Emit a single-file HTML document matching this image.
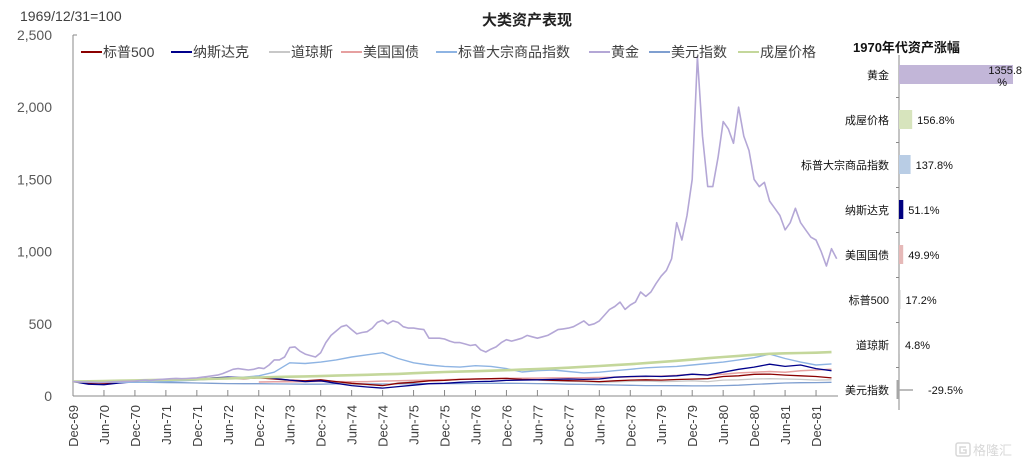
<!DOCTYPE html>
<html><head><meta charset="utf-8"><style>
body{margin:0;background:#fff;}
svg{display:block;font-family:"Liberation Sans","Noto Sans CJK SC",sans-serif;}
</style></head><body>
<svg id="c" width="1031" height="465" viewBox="0 0 1031 465">
<text x="20" y="21" font-size="14" fill="#404040">1969/12/31=100</text>
<text x="527" y="25" font-size="15" font-weight="bold" fill="#222" text-anchor="middle">大类资产表现</text>
<text x="853" y="52" font-size="13" font-weight="bold" fill="#111">1970年代资产涨幅</text>
<g id="grid"></g><g id="lines"></g><g id="legend"></g><g id="bars"></g>
<g fill="none" stroke="#d8d8d8" stroke-width="1.5">
<rect x="956" y="443" width="14" height="13" rx="2"/><path d="M966 447h-6v6h6v-3h-3"/>
</g>
<text x="973" y="455" font-size="13" fill="#d8d8d8">格隆汇</text>
</svg>
<script>
const monthsLabels=["Dec-69","Jun-70","Dec-70","Jun-71","Dec-71","Jun-72","Dec-72","Jun-73","Dec-73","Jun-74","Dec-74","Jun-75","Dec-75","Jun-76","Dec-76","Jun-77","Dec-77","Jun-78","Dec-78","Jun-79","Dec-79","Jun-80","Dec-80","Jun-81","Dec-81"];
const yTicks=[0,500,1000,1500,2000,2500];
const yTickLabels=["0","500","1,000","1,500","2,000","2,500"];
// gold monthly Dec-69..Apr-82
const gold=[100,98,97,96,95,93,94,96,98,100,101,102,104,
107,110,108,112,115,117,120,122,120,121,123,125,
130,135,140,145,155,170,185,190,185,180,185,195,
190,215,250,250,270,335,340,310,290,280,270,300,
370,420,450,480,490,460,430,440,445,470,510,525,
500,520,510,480,470,470,465,460,400,400,400,395,
380,370,370,360,350,355,320,305,325,340,370,390,
380,390,400,420,410,400,410,420,440,460,465,470,
480,500,520,490,500,520,560,600,620,650,600,630,
650,720,690,720,780,830,870,950,1200,1080,1250,1500,
2350,1800,1450,1450,1650,1900,1850,1750,2000,1800,1700,1500,
1450,1480,1350,1300,1250,1150,1200,1300,1200,1150,1100,1080,
1000,900,1020,950];
// quarterly series Dec-69..Mar-82 (50 points)
const housing=[100,102,104,106,108,110,112,114,116,119,122,125,128,131,134,136,138,141,144,147,150,153,158,162,166,169,172,175,179,183,187,191,196,202,208,214,220,228,236,244,252,262,270,278,286,292,296,298,300,304];
const commodity=[100,97,96,95,95,97,100,105,110,118,122,130,140,165,230,225,235,250,270,285,300,260,230,215,205,200,210,205,190,166,175,180,170,160,165,175,185,195,200,205,215,225,235,250,265,290,260,235,215,222];
const dow=[100,85,92,98,105,110,108,110,115,122,125,120,125,118,105,98,108,95,80,78,75,90,98,105,108,115,118,120,122,115,110,105,102,100,95,98,102,104,100,102,105,100,110,112,118,120,118,115,110,112];
const sp500=[100,88,85,95,102,108,110,108,112,118,122,120,125,118,110,105,112,100,88,80,72,88,95,105,108,115,118,120,122,115,112,108,106,104,100,105,110,112,110,114,117,120,135,140,150,152,145,140,135,125];
const nasdaq=[100,82,78,90,98,108,112,115,118,125,130,128,132,122,110,100,105,88,72,62,55,65,75,85,88,95,100,102,108,110,112,115,118,115,118,130,135,138,135,140,151,145,165,185,200,220,205,215,190,175];
const treasury=[null,null,null,null,null,null,null,null,null,null,null,null,97,98,99,100,102,100,98,100,103,106,108,110,112,115,118,120,122,123,124,125,125,126,128,130,132,135,138,143,150,145,150,160,165,170,165,175,180,185];
const usd=[100,99,98,97,96,95,93,92,90,88,86,85,85,84,83,82,82,84,85,84,83,84,85,86,86,86,87,88,88,87,86,85,82,80,78,76,74,72,72,71,70,70,72,75,80,85,90,92,93,95];
const barCats=["黄金","成屋价格","标普大宗商品指数","纳斯达克","美国国债","标普500","道琼斯","美元指数"];
const barVals=[1355.8,156.8,137.8,51.1,49.9,17.2,4.8,-29.5];
const barColors=["#c2b6d8","#d7e4bd","#b9cde5","#000080","#e6b9b8","#c8c8c8","#c8c8c8","#a6a6a6"];

const NS="http://www.w3.org/2000/svg";
function mk(tag,attrs,parent){const e=document.createElementNS(NS,tag);for(const k in attrs)e.setAttribute(k,attrs[k]);parent.appendChild(e);return e;}
const X0=73,PX_M=30.96/6,Y0=396,PX_V=361/2500;
const xm=m=>X0+m*PX_M, yv=v=>Y0-v*PX_V;
const grid=document.getElementById('grid');
let ax=mk('line',{x1:X0,y1:35,x2:X0,y2:Y0,stroke:'#888'},grid);

let ax2=mk('line',{x1:X0,y1:Y0,x2:838,y2:Y0,stroke:'#888'},grid);

mk('line',{x1:X0,y1:35,x2:X0+4,y2:35,stroke:'#888'},grid);
yTicks.forEach((v,i)=>{const t=mk('text',{x:52,y:yv(v)+5,'font-size':14,fill:'#595959','text-anchor':'end'},grid);t.textContent=yTickLabels[i];
});
monthsLabels.forEach((l,i)=>{const x=xm(i*6);
if(i>0)mk('line',{x1:x,y1:Y0-6,x2:x,y2:Y0,stroke:'#888'},grid);
const t=mk('text',{x:0,y:0,'font-size':13,fill:'#404040','text-anchor':'end',transform:`translate(${x+5},405) rotate(-90)`},grid);t.textContent=l;
});
const lines=document.getElementById('lines');
function drawSeries(vals,step,color,w,name){let d='';let pen=false;vals.forEach((v,i)=>{if(v==null){pen=false;return;}d+=(pen?'L':'M')+xm(i*step).toFixed(1)+' '+yv(v).toFixed(1);pen=true;});
const p=mk('path',{d:d,fill:'none',stroke:color,'stroke-width':w,'stroke-linejoin':'round'},lines);
}
drawSeries(usd,3,'#7f9fd0',1.3,'usd-index-line');
drawSeries(dow,3,'#c8c8c8',1.3,'dow-jones-line');
drawSeries(treasury,3,'#e6a0a0',1.5,'treasury-line');
drawSeries(sp500,3,'#8b0000',1.3,'sp500-line');
drawSeries(nasdaq,3,'#00008b',1.3,'nasdaq-line');
drawSeries(commodity,3,'#8eb4e3',1.4,'commodity-line');
drawSeries(housing,3,'#c4d79b',2.6,'housing-line');
drawSeries(gold,1,'#b4a7d6',1.6,'gold-line');
const leg=[["标普500","#8b0000"],["纳斯达克","#00008b"],["道琼斯","#c8c8c8"],["美国国债","#e6a0a0"],["标普大宗商品指数","#8eb4e3"],["黄金","#b4a7d6"],["美元指数","#7f9fd0"],["成屋价格","#c4d79b"]];
const legX=[81,171,269,341,436,589,649,738];
const lg=document.getElementById('legend');
leg.forEach((l,i)=>{const g=mk('g',{},lg);
mk('line',{x1:legX[i],y1:52,x2:legX[i]+21,y2:52,stroke:l[1],'stroke-width':2},g);
const t=mk('text',{x:legX[i]+22,y:57,'font-size':14,fill:'#404040'},g);t.textContent=l[0];});
const bg=document.getElementById('bars');
const BX=899,BS=114/1355.8;
let bax=mk('line',{x1:BX,y1:55,x2:BX,y2:410,stroke:'#888'},bg);

barCats.forEach((c,i)=>{const cy=75+i*45;
if(i>0)mk('line',{x1:BX-3,y1:cy-22.5,x2:BX,y2:cy-22.5,stroke:'#888'},bg);
const t=mk('text',{x:889,y:cy+4,'font-size':11,fill:'#111','text-anchor':'end'},bg);t.textContent=c;

const v=barVals[i];const w=Math.abs(v)*BS;
const r=mk('rect',{x:v>=0?BX:BX-w,y:cy-10,width:Math.max(w,1),height:19,fill:barColors[i]},bg);

if(v<0)mk('line',{x1:BX-2,y1:cy,x2:BX+14,y2:cy,stroke:'#a6a6a6','stroke-width':1.5},bg);
const lbl=v.toFixed(1)+'%';
if(i===0){const a=mk('text',{x:1022,y:cy-1,'font-size':11,fill:'#111','text-anchor':'end'},bg);a.textContent=v.toFixed(1);

const b=mk('text',{x:1007,y:cy+11,'font-size':11,fill:'#111','text-anchor':'end'},bg);b.textContent='%';
}
else{const lx=v<0?928:BX+Math.max(w,1)+5;const a=mk('text',{x:lx,y:cy+4,'font-size':11,fill:'#111'},bg);a.textContent=lbl;
}
});
</script>
</body></html>
